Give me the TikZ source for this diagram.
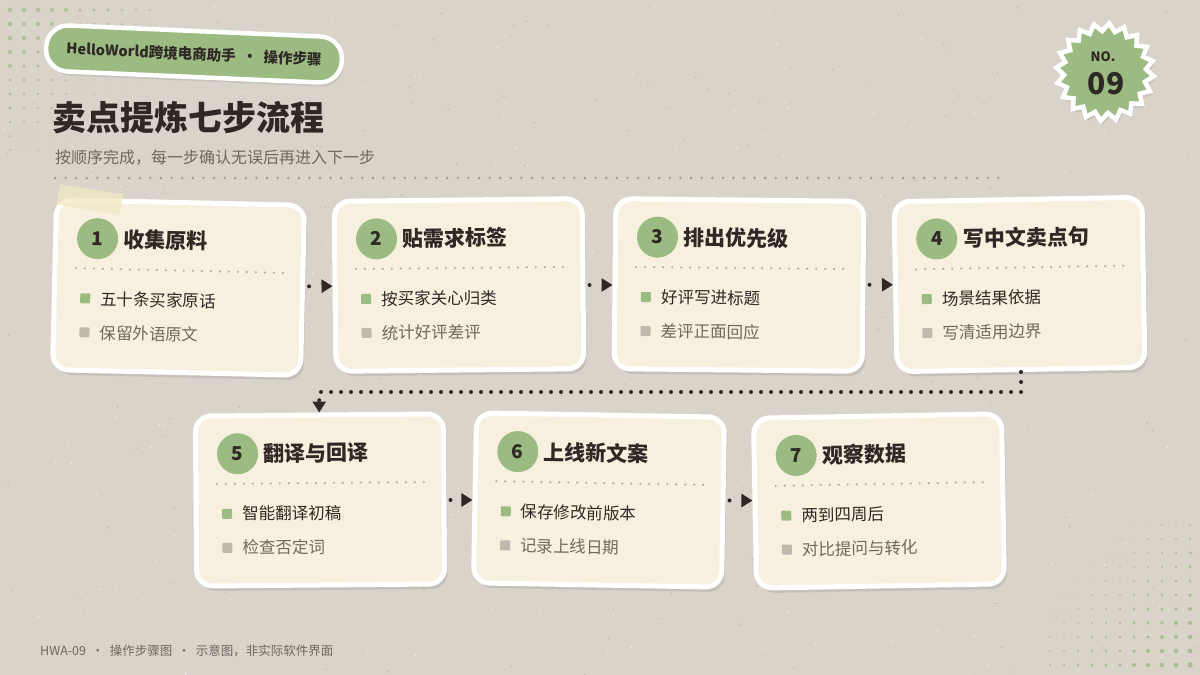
\documentclass[tikz,border=0pt]{standalone}
\usepackage{fontspec}
\setmainfont{Noto Sans CJK SC}
\usepackage{xcolor}
\usepackage{tikz}
\usetikzlibrary{arrows.meta,shapes.geometric,shadows}

\definecolor{paper}{HTML}{D9D3CA}
\definecolor{cream}{HTML}{F8F0DE}
\definecolor{leaf}{HTML}{9BBB83}
\definecolor{ink}{HTML}{2F2825}
\definecolor{softink}{HTML}{70675F}
\definecolor{chip}{HTML}{BFB8AE}
\definecolor{rulegrey}{HTML}{B3AAA0}
\definecolor{topgrey}{HTML}{9E958C}
\definecolor{tape}{HTML}{F1E8C4}

\tikzset{
  cardbox/.style={rectangle, rounded corners=16pt, fill=cream, draw=white, line width=5pt,
    minimum width=248pt, minimum height=170pt,
    drop shadow={opacity=0.22, shadow xshift=3pt, shadow yshift=-5pt}},
  numdot/.style={circle, fill=leaf, minimum size=41pt, inner sep=0pt, text=ink,
    font=\bfseries\fontsize{19}{19}\selectfont},
  cardtitle/.style={anchor=west, inner sep=0pt, text=ink, font=\bfseries\fontsize{21}{21}\selectfont},
  itemtext/.style={anchor=west, inner sep=0pt, font=\fontsize{16.5}{16.5}\selectfont},
  bulletsq/.style={rectangle, minimum size=10pt, inner sep=0pt, rounded corners=1pt},
  cardrule/.style={draw=rulegrey, line width=2.4pt, line cap=round, dash pattern=on 0pt off 9pt},
  toprule/.style={draw=topgrey, line width=2.6pt, line cap=round, dash pattern=on 0pt off 10.6pt},
  flow/.style={draw=ink, line width=4pt, line cap=round, dash pattern=on 0pt off 10pt,
    -{Triangle[length=11pt,width=13pt]}},
  hopflow/.style={flow, dash pattern=on 0pt off 20pt, shorten <=4pt},
}

% one step card: name, x, y, angle, number, title, item one, item two
\newcommand{\stepcard}[8]{%
  \begin{scope}[shift={(#2,#3)}, rotate=#4, transform shape]
    \node[cardbox] (#1) at (0,0) {};
    \node[numdot] (#1num) at (-82,-47) {#5};
    \node[cardtitle] (#1title) at (-56,-47) {#6};
    \draw[cardrule] (-103,-17) -- (107,-17);
    \node[bulletsq, fill=leaf] (#1dota) at (-93,13) {};
    \node[itemtext, text=ink] (#1itema) at (-78,13) {#7};
    \node[bulletsq, fill=chip] (#1dotb) at (-93,47) {};
    \node[itemtext, text=softink] (#1itemb) at (-78,47) {#8};
  \end{scope}}

\begin{document}
\begin{tikzpicture}[x=1pt,y=-1pt]
  \useasboundingbox (0,0) rectangle (1200,675);

  % Paper
  \fill[paper] (0,0) rectangle (1200,675);
  \pgfmathsetseed{7}
  \foreach \k in {1,...,220}{
    \pgfmathsetmacro{\sx}{rnd*1200}
    \pgfmathsetmacro{\sy}{rnd*675}
    \fill[white, opacity=0.6] (\sx,\sy) circle (0.9pt);
  }
  \foreach \k in {1,...,160}{
    \pgfmathsetmacro{\sx}{rnd*1200}
    \pgfmathsetmacro{\sy}{rnd*675}
    \fill[softink, opacity=0.3] (\sx,\sy) circle (0.8pt);
  }

  % Halftone dots
  \foreach \i in {0,...,10}{
    \foreach \j in {0,...,10}{
      \pgfmathsetmacro{\r}{2.6-0.15*(\i+\j)}
      \ifdim\r pt>0.5pt
        \fill[leaf!80!paper] (1190-14*\i,665-14*\j) circle (\r pt);
        \fill[leaf!65!paper] (10+14*\i,10+14*\j) circle (\r pt);
      \fi
    }
  }

  % Header
  \node[rectangle, rounded corners=22pt, fill=leaf, draw=white, line width=4.5pt,
    minimum width=296pt, minimum height=46pt, rotate=-2.5,
    drop shadow={opacity=0.2, shadow xshift=2pt, shadow yshift=-4pt},
    text=ink, font=\bfseries\fontsize{14.5}{14.5}\selectfont] (tag) at (194,54)
    {HelloWorld跨境电商助手\ \ ·\ \ 操作步骤};
  \node[anchor=west, inner sep=0pt, text=ink, font=\bfseries\fontsize{34}{34}\selectfont]
    (headline) at (52,118) {卖点提炼七步流程};
  \node[anchor=west, inner sep=0pt, text=softink, font=\fontsize{16}{16}\selectfont]
    (subline) at (55,158) {按顺序完成，每一步确认无误后再进入下一步};
  \draw[toprule] (55,178) -- (1000,178);

  % Badge
  \node[star, star points=20, star point ratio=0.84, minimum size=82pt, inner sep=0pt,
    fill=leaf, draw=white, line width=4.5pt, rotate=4,
    drop shadow={opacity=0.2, shadow xshift=2pt, shadow yshift=-4pt}] (badge) at (1105,72) {};
  \node[text=ink, font=\bfseries\fontsize{13}{13}\selectfont] (badgeno) at (1103,57) {NO.};
  \node[text=ink, font=\bfseries\fontsize{30}{30}\selectfont] (badgenum) at (1106,84) {09};

  % Cards
  \stepcard{c1}{178.5}{287.5}{-1.3}{1}{收集原料}{五十条买家原话}{保留外语原文}
  \stepcard{c2}{459}{285}{0.6}{2}{贴需求标签}{按买家关心归类}{统计好评差评}
  \stepcard{c3}{739}{285}{-0.6}{3}{排出优先级}{好评写进标题}{差评正面回应}
  \stepcard{c4}{1019.5}{284.5}{1}{4}{写中文卖点句}{场景结果依据}{写清适用边界}
  \stepcard{c5}{320}{500}{0.5}{5}{翻译与回译}{智能翻译初稿}{检查否定词}
  \stepcard{c6}{599}{500}{-1}{6}{上线新文案}{保存修改前版本}{记录上线日期}
  \stepcard{c7}{879}{501}{1}{7}{观察数据}{两到四周后}{对比提问与转化}

  % Tape
  \fill[tape, opacity=0.75, rotate around={-9:(90,199)}] (58,189) rectangle (122,210);

  % Flow
  \draw[hopflow] (c1) -- (c2);
  \draw[hopflow] (c2) -- (c3);
  \draw[hopflow] (c3) -- (c4);
  \draw[flow] (c4.south) -- ++(0,20) -| (c5.north);
  \draw[hopflow] (c5) -- (c6);
  \draw[hopflow] (c6) -- (c7);

  % Footer
  \node[anchor=west, inner sep=0pt, text=softink, font=\fontsize{12.5}{12.5}\selectfont]
    (footer) at (40,651) {HWA-09\ \ ·\ \ 操作步骤图\ \ ·\ \ 示意图，非实际软件界面};
\end{tikzpicture}
\end{document}
